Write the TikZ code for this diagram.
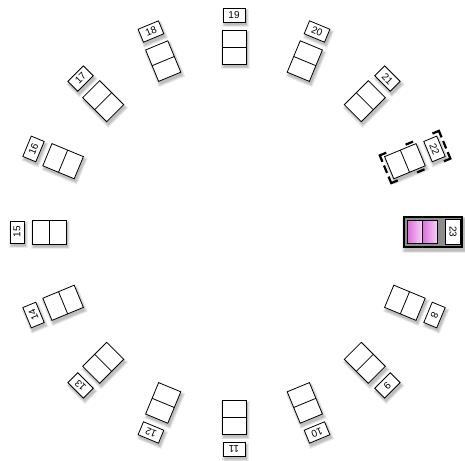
\documentclass[tikz,border=0pt]{standalone}
\usepackage{fontspec}
\setmainfont{Liberation Sans}
\usetikzlibrary{calc}
\definecolor{pinkL}{RGB}{222,105,222}
\definecolor{pinkR}{RGB}{246,208,246}
\begin{document}
\begin{tikzpicture}[x=1pt,y=1pt,
  cell/.style={draw=black, line width=0.8pt, fill=white, minimum width=24pt, minimum height=34pt, inner sep=0pt, outer sep=0pt},
  lab/.style={draw=black, line width=0.8pt, fill=white, minimum width=22pt, minimum height=14pt, inner sep=0pt, outer sep=0pt, font=\fontsize{10}{10}\selectfont},
  shad/.style={fill=black, opacity=0.07, draw=none, inner sep=0pt, outer sep=0pt},
  handle/.style={line width=2.2pt, black, line cap=butt},
]
\useasboundingbox (0,0) rectangle (465,460);
\coordinate (C) at (234,228);
% shadows for the regular units
\foreach \a in {90,67.5,45,22.5,-22.5,-45,-67.5,-90,-112.5,-135,-157.5,180,157.5,135,112.5} {
  \foreach \k in {0,1,2,3} {
    \node[shad, rotate=\a-90, minimum width=24pt+\k*1.5pt, minimum height=34pt+\k*1.5pt] at ($(C)+(\a:185)+(1.5,-3)$) {};
    \node[shad, rotate=\a-90, minimum width=22pt+\k*1.5pt, minimum height=14pt+\k*1.5pt] at ($(C)+(\a:217)+(1.5,-3)$) {};
  }
}
% regular units
\foreach \a/\t in {90/19,67.5/20,45/21,22.5/22,-22.5/8,-45/9,-67.5/10,-90/11,-112.5/12,-135/13,-157.5/14,180/15,157.5/16,135/17,112.5/18} {
  \node[cell, rotate=\a-90] (b\t) at ($(C)+(\a:185)$) {};
  \draw[line width=0.8pt] (b\t.west) -- (b\t.east);
  \node[lab, rotate=\a-90] (l\t) at ($(C)+(\a:217)$) {\t};
}
% selection handles around unit 22
\begin{scope}[shift={(C)}, rotate=22.5-90]
  \def\xl{-15}\def\xr{15}\def\yb{164}\def\yt{228}
  \draw[handle] (\xl,\yb+7) -- (\xl,\yb) -- (\xl+7,\yb);
  \draw[handle] (\xr-7,\yb) -- (\xr,\yb) -- (\xr,\yb+7);
  \draw[handle] (\xl,\yt-7) -- (\xl,\yt) -- (\xl+7,\yt);
  \draw[handle] (\xr-7,\yt) -- (\xr,\yt) -- (\xr,\yt-7);
  \draw[handle] (\xl,192) -- (\xl,200);
  \draw[handle] (\xr,192) -- (\xr,200);
  \draw[handle] (-4,\yb) -- (4,\yb);
  \draw[handle] (-4,\yt) -- (4,\yt);
\end{scope}
% highlighted unit 23
\foreach \k in {0,1,2,3} {
  \fill[black, opacity=0.07] ($(403,212)+(1.5-\k*0.75,-3-\k*0.75)$) rectangle ($(463,244)+(1.5+\k*0.75,-3+\k*0.75)$);
}
\node[draw=black, line width=2.5pt, fill=black!45, minimum width=58pt, minimum height=30pt, inner sep=0pt] (f23) at (433,228) {};
\node[draw=black, line width=0.8pt, left color=pinkL, right color=pinkR, minimum width=15pt, minimum height=23pt, inner sep=0pt] (p23a) at (414.5,228) {};
\node[draw=black, line width=0.8pt, left color=pinkL, right color=pinkR, minimum width=15pt, minimum height=23pt, inner sep=0pt] (p23b) at (429.5,228) {};
\node[lab, rotate=-90, minimum width=25pt, minimum height=15pt] (l23) at (453,228) {23};
\end{tikzpicture}
\end{document}
